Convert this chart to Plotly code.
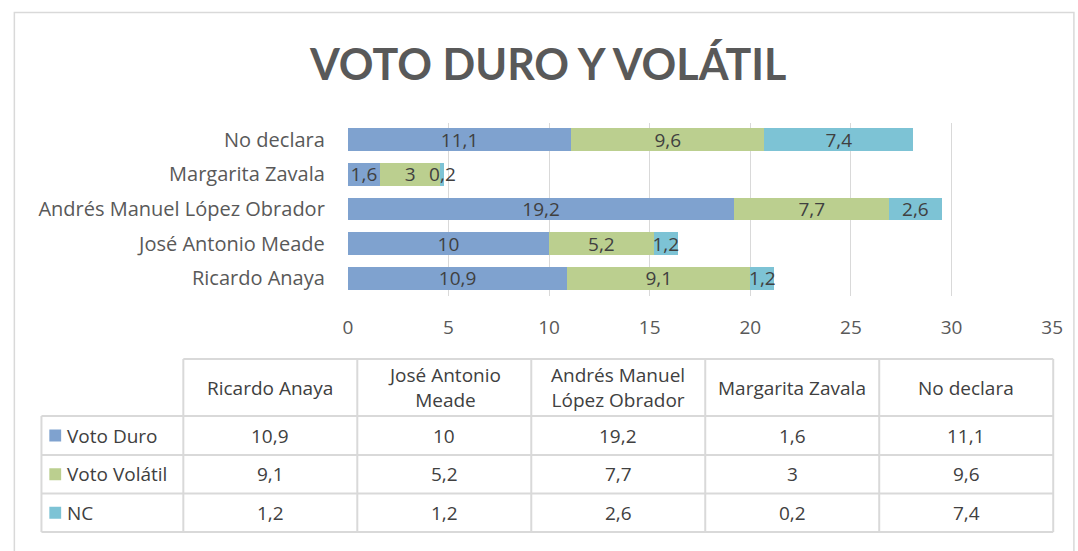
import plotly.graph_objects as go

# ---------------- data ----------------
categories = ["Ricardo Anaya", "José Antonio Meade", "Andrés Manuel López Obrador",
              "Margarita Zavala", "No declara"]
table_headers = ["Ricardo Anaya", "José Antonio<br>Meade", "Andrés Manuel<br>López Obrador",
                 "Margarita Zavala", "No declara"]
series_names = ["Voto Duro", "Voto Volátil", "NC"]
voto_duro = [10.9, 10, 19.2, 1.6, 11.1]
voto_volatil = [9.1, 5.2, 7.7, 3, 9.6]
nc = [1.2, 1.2, 2.6, 0.2, 7.4]
x_ticks = [0, 5, 10, 15, 20, 25, 30, 35]
title_text = "VOTO DURO Y VOLÁTIL"

colors = ["#7FA2CF", "#BBCF8F", "#7DC3D5"]
series_values = [voto_duro, voto_volatil, nc]

W, H = 1078, 551
FONT = "Open Sans"
TFONT = "Lato"
FS = 20
TXT = "#404040"
GRID = "#D9D9D9"


def fmt(v):
    return f"{v:g}".replace(".", ",")


def px(x):
    return x / W


def py(y):
    return 1 - y / H


fig = go.Figure()
for name, vals, col in zip(series_names, series_values, colors):
    fig.add_trace(go.Bar(
        y=categories, x=vals, name=name, orientation="h",
        marker=dict(color=col, line=dict(width=0)),
        text=[fmt(v) for v in vals], textposition="inside",
        insidetextanchor="middle", textangle=0, constraintext="none",
        textfont=dict(family=FONT, size=FS - 1, color=TXT),
        hoverinfo="skip", cliponaxis=False,
    ))

plot_l, plot_r = 348, 1063
plot_t, plot_b = 122.5, 295.5

fig.update_layout(
    width=W, height=H, margin=dict(l=0, r=0, t=0, b=0),
    paper_bgcolor="white", plot_bgcolor="white",
    barmode="stack", bargap=0.34, showlegend=False,
    font=dict(family=FONT, color=TXT),
    xaxis=dict(domain=[px(plot_l), px(plot_r)], range=[0, 35], tickvals=x_ticks,
               ticktext=[str(t) for t in x_ticks],
               showgrid=True, gridcolor=GRID, gridwidth=1, zeroline=False,
               showline=False, ticks="", ticklabelstandoff=18,
               tickfont=dict(family=FONT, size=FS - 1, color="#595959"),
               side="bottom", anchor="y", fixedrange=True),
    yaxis=dict(domain=[py(plot_b), py(plot_t)], categoryorder="array", categoryarray=categories,
               showgrid=False, zeroline=False, showline=False, ticks="",
               ticklabelstandoff=22,
               tickfont=dict(family=FONT, size=FS, color="#595959"), fixedrange=True),
)

shapes = []
annotations = []

# outer chart border
shapes.append(dict(type="rect", xref="paper", yref="paper", x0=px(9.5), x1=px(1085), y0=py(12.5), y1=py(560),
                   line=dict(color="#D9D9D9", width=1.5), fillcolor="rgba(0,0,0,0)", layer="below"))

# title
annotations.append(dict(text=f"<b>{title_text}</b>", x=px(551), y=py(63), xref="paper", yref="paper",
                        showarrow=False, xanchor="center", yanchor="middle",
                        font=dict(family=TFONT, size=43, color="#595959")))

# data table
col_edges = [181 + i * (1064 - 181) / 5 for i in range(6)]
row_edges = [359, 416, 455, 493.5, 532]
row_left = 37
tcol = "#D9D9D9"
# horizontal lines
shapes.append(dict(type="line", xref="paper", yref="paper", x0=px(col_edges[0]), x1=px(col_edges[-1]),
                   y0=py(row_edges[0]), y1=py(row_edges[0]), line=dict(color=tcol, width=2)))
for ry in row_edges[1:]:
    shapes.append(dict(type="line", xref="paper", yref="paper", x0=px(row_left), x1=px(col_edges[-1]),
                       y0=py(ry), y1=py(ry), line=dict(color=tcol, width=2)))
# vertical lines
shapes.append(dict(type="line", xref="paper", yref="paper", x0=px(row_left), x1=px(row_left),
                   y0=py(row_edges[1]), y1=py(row_edges[-1]), line=dict(color=tcol, width=2)))
for cx in col_edges:
    shapes.append(dict(type="line", xref="paper", yref="paper", x0=px(cx), x1=px(cx),
                       y0=py(row_edges[0]), y1=py(row_edges[-1]), line=dict(color=tcol, width=2)))

# headers
for i, h in enumerate(table_headers):
    cx = (col_edges[i] + col_edges[i + 1]) / 2
    cy = (row_edges[0] + row_edges[1]) / 2
    annotations.append(dict(text=h, x=px(cx), y=py(cy), xref="paper", yref="paper", showarrow=False,
                            xanchor="center", yanchor="middle",
                            font=dict(family=FONT, size=FS - 1, color=TXT)))
# rows
for r, (name, vals, col) in enumerate(zip(series_names, series_values, colors)):
    cy = (row_edges[r + 1] + row_edges[r + 2]) / 2
    shapes.append(dict(type="rect", xref="paper", yref="paper", x0=px(45), x1=px(57),
                       y0=py(cy - 6), y1=py(cy + 6), fillcolor=col, line=dict(width=0)))
    annotations.append(dict(text=name, x=px(61), y=py(cy), xref="paper", yref="paper", showarrow=False,
                            xanchor="left", yanchor="middle",
                            font=dict(family=FONT, size=FS - 1, color=TXT)))
    for i, v in enumerate(vals):
        cx = (col_edges[i] + col_edges[i + 1]) / 2
        annotations.append(dict(text=fmt(v), x=px(cx), y=py(cy), xref="paper", yref="paper",
                                showarrow=False, xanchor="center", yanchor="middle",
                                font=dict(family=FONT, size=FS - 1, color=TXT)))

fig.update_layout(shapes=shapes, annotations=annotations)
fig.write_html("out.html", config={"displayModeBar": False},
               post_script="document.body.style.margin='0';document.body.style.overflow='hidden';")
